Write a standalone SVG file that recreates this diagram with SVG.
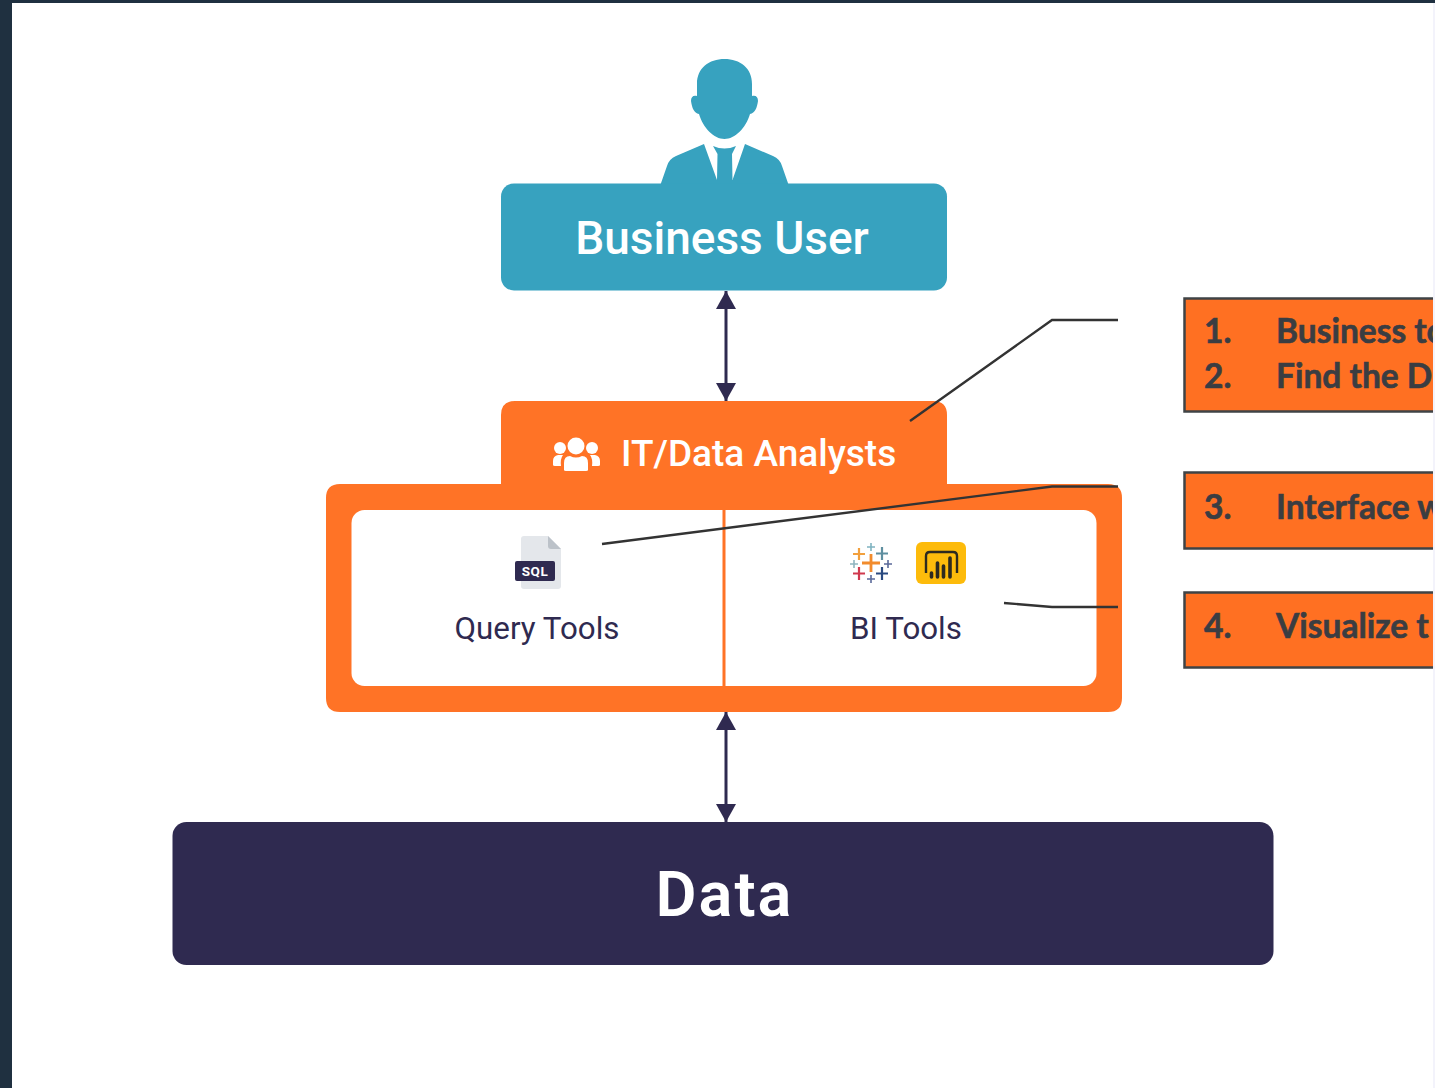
<svg xmlns="http://www.w3.org/2000/svg" width="1435" height="1088" viewBox="0 0 1435 1088">
<style>
.r{font-family:Roboto,"Liberation Sans",sans-serif}
.w{fill:#fff}
.tool{font-size:31.300px;fill:#2f2a50}
.num{font-family:Lato,"Open Sans",sans-serif;font-weight:700;font-size:33.500px;fill:#3a3d42;stroke:#3a3d42;stroke-width:.6}
.box{fill:#ff7022;stroke:#3f4346;stroke-width:2.500}
.lead{fill:none;stroke:#333;stroke-width:2.400}
.dbl{fill:none;stroke:#2f2a50;stroke-width:3;marker-start:url(#a);marker-end:url(#a)}
</style>
<defs>
<marker id="a" markerUnits="userSpaceOnUse" markerWidth="20" markerHeight="20" refX="18" refY="10" orient="auto-start-reverse"><path d="M0 0L18 10L0 20Z" fill="#2f2a50"/></marker>
<clipPath id="c"><rect x="0" y="0" width="1433" height="1088"/></clipPath>
</defs>
<rect width="1435" height="1088" fill="#1f3040"/>
<rect x="12" y="3" width="1423" height="1085" fill="#fff"/>
<rect x="1433" y="3" width="2" height="1085" fill="#f3f3fb"/>

<g id="business-user">
<path d="M697 84C697 68 709 59 724.500 59C740 59 752 68 752 84V96C756 95 758 97 758 101C757 108 755 113 750 114C746 128 735 139 724.500 139C714 139 703 128 699 114C694 113 692 108 691 101C691 97 693 95 697 96Z" fill="#37a2bf"/>
<path d="M704 144L717 180L717.500 154L713 146Q724.500 151 736 146L732 154L732.500 180L745 144L773 156Q780 159 782 166L789 186H660L667 166Q669 159 676 156Z" fill="#37a2bf"/>
<rect x="501" y="183.500" width="446" height="107" rx="13" fill="#37a2bf"/>
<text class="r w" x="722" y="254" font-size="46" font-weight="500" text-anchor="middle">Business User</text>
</g>

<g id="it-data-analysts">
<path d="M326 498Q326 484 340 484H501V415Q501 401 515 401H933Q947 401 947 415V484H1108Q1122 484 1122 498V698Q1122 712 1108 712H340Q326 712 326 698Z" fill="#ff7326"/>
<g class="w">
<circle cx="576" cy="446" r="8.500"/><circle cx="560" cy="448" r="6"/><circle cx="592" cy="448" r="6"/>
<path d="M564 470V463Q564 456 570 456Q576 459 582 456Q588 456 588 463V470Q588 471 586 471H566Q564 471 564 470Z"/>
<path d="M553 465V461Q553 456 558 455H563Q560 459 561 466H555Q553 466 553 465Z"/>
<path d="M600 465V461Q600 456 595 455H590Q593 459 592 466H598Q600 466 600 465Z"/>
</g>
<text class="r w" x="621" y="466" font-size="37" font-weight="500">IT/Data Analysts</text>
</g>

<g id="tools-panel">
<rect x="351.500" y="510" width="745" height="176" rx="13" fill="#fff"/>
<rect x="722.500" y="510" width="3" height="176" fill="#ff7326"/>
</g>

<g id="query-tools">
<path d="M524 536H548L561 549V586Q561 589 558 589H524Q521 589 521 586V539Q521 536 524 536Z" fill="#e4e7eb"/>
<path d="M548 536L561 549H551Q548 549 548 546Z" fill="#bcc2c9"/>
<rect x="515" y="561" width="40" height="20" rx="2" fill="#2f2a50"/>
<text x="535" y="576" font-family="Roboto,sans-serif" font-size="13.500" font-weight="700" fill="#fff" text-anchor="middle" letter-spacing=".6">SQL</text>
<text class="r tool" x="537" y="639" text-anchor="middle">Query Tools</text>
</g>

<g id="bi-tools">
<g fill="none" stroke-width="2.200">
<path d="M871 554V572M862 563H880" stroke="#f28b2c" stroke-width="2.800"/>
<path d="M859 548V560M853 554H865" stroke="#f2a03d"/>
<path d="M882 547V560M876 553.500H888" stroke="#5f8fa0"/>
<path d="M871 543V551M867 547H875" stroke="#7fb3c0" stroke-width="1.600"/>
<path d="M854 560V568M850 564H858" stroke="#8fb5c0" stroke-width="1.600"/>
<path d="M888 560V568M884 564H892" stroke="#5b6a9a" stroke-width="1.600"/>
<path d="M859 567V580M853 573.500H865" stroke="#d0394e"/>
<path d="M882 567V580M876 573.500H888" stroke="#2a4a80"/>
<path d="M871 575V583M867 579H875" stroke="#5b6a9a" stroke-width="1.600"/>
</g>
<rect x="916" y="542" width="50" height="42" rx="6" fill="#fdbb0b"/>
<path d="M926 573V556Q926 552 930 552H953Q957 552 957 556V573" fill="none" stroke="#2d2a20" stroke-width="2.400"/>
<g stroke="#2d2a20" stroke-width="3.600" stroke-linecap="round"><path d="M931.500 577V573M937.500 577V563M943.500 577V566M950 577V558"/></g>
<text class="r tool" x="906" y="639" text-anchor="middle">BI Tools</text>
</g>

<g id="data">
<rect x="172.500" y="822" width="1101" height="143" rx="14" fill="#2f2a50"/>
<text class="r w" x="724.500" y="916" font-size="63" font-weight="600" text-anchor="middle" letter-spacing="2">Data</text>
</g>

<g id="connectors">
<path class="dbl" d="M726 291V401"/>
<path class="dbl" d="M726 712V822"/>
<path class="lead" d="M910 421L1052 320H1118"/>
<path class="lead" d="M602 544L1052 486.500H1118"/>
<path class="lead" d="M1004 603L1052 607H1118"/>
</g>

<g clip-path="url(#c)">
<g id="callout-1-2">
<rect class="box" x="1184.500" y="298.500" width="270" height="113"/>
<text class="num" x="1204" y="343">1.</text><text class="num" x="1276" y="343">Business to</text>
<text class="num" x="1204" y="388">2.</text><text class="num" x="1276" y="388">Find the D</text>
</g>
<g id="callout-3">
<rect class="box" x="1184.500" y="472.500" width="270" height="76"/>
<text class="num" x="1204" y="519">3.</text><text class="num" x="1276" y="519">Interface w</text>
</g>
<g id="callout-4">
<rect class="box" x="1184.500" y="592.500" width="270" height="75"/>
<text class="num" x="1204" y="638">4.</text><text class="num" x="1276" y="638">Visualize t</text>
</g>
</g>
</svg>
